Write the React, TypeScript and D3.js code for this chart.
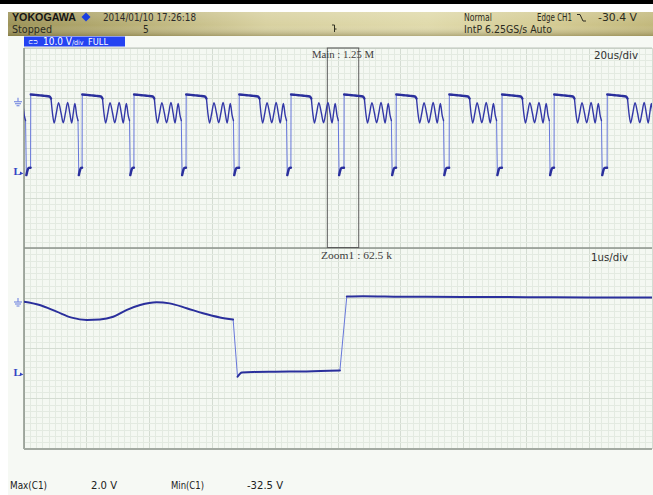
import React from "react";
import * as d3 from "d3";

const W = 653;
const H = 495;

// Screen geometry of the waveform area
const PLOT_L = 24;
const PLOT_R = 652;
const MAIN_TOP = 48;
const SPLIT_Y = 248;
const ZOOM_BOTTOM = 449;

// Main window: 20 us/div, 10 div, centred on the trigger
const mainTimeDomain: [number, number] = [-100, 100];
// Rising edges of CH1 in the main window (us)
const risingEdges = [-114.6, -97.9, -81.5, -65.0, -48.4, -31.5, -15.0, 1.9, 18.5, 35.4, 52.2, 68.8, 85.7];
// One switching pulse, time after the rising edge (us) and level (V)
const pulseT = [0.05, 1.5, 3.0, 4.5, 6.0, 6.5, 7.0, 7.5, 8.2, 8.9, 9.7, 10.4, 11.1, 11.8, 12.5, 13.1, 13.6, 14.1, 14.7, 15.1, 15.35, 15.8, 16.1];
const pulseV = [3.2, 3.0, 2.8, 2.6, 2.3, 1.4, -5.5, -9.4, -5.0, -0.4, -5.0, -9.3, -5.0, -0.3, -5.2, -9.4, -5.0, -0.8, -6.2, -8.3, -32.5, -30.0, -29.3];
const TOP_END_IDX = 5; // end of the flat top
const FALL_IDX = 19; // last sample before the falling edge
const LOW_BEFORE_RISE = -29.2;

// Zoom1 window: 1 us/div, 10 us wide
const zoomStart = -3.4;
const zoomSpan = 10;
const zoomT = [0, 0.25, 0.52, 0.76, 1.0, 1.21, 1.42, 1.63, 1.85, 2.11, 2.32, 2.59, 2.85, 3.12, 3.33, 3.4, 3.47, 3.65, 4.0, 4.5, 5.03, 5.14, 5.4, 6, 7, 8, 9, 10];
const zoomV = [0.1, -1.3, -4.2, -6.8, -7.8, -7.6, -6.4, -3.5, -1.3, -0.1, -0.6, -2.7, -4.9, -6.7, -7.6, -32.5, -30.7, -30.4, -30.3, -30.2, -29.8, 2.4, 2.5, 2.3, 2.2, 2.1, 2.0, 2.0];
const ZOOM_FALL_IDX = 14;
const ZOOM_RISE_IDX = 20;

// Readouts
const maxLabel = "Max(C1)";
const maxValue = "2.0 V";
const minLabel = "Min(C1)";
const minValue = "-32.5 V";

const TRACE = "#2a2f9c";
const EDGE = "#6676da";
const NARROW = "'Liberation Sans Narrow', 'DejaVu Sans Condensed', 'Arial Narrow', sans-serif";
const SERIF = "'Liberation Serif', 'DejaVu Serif', serif";

type Pt = [number, number];

export default function App() {
  const xMain = d3.scaleLinear().domain(mainTimeDomain).range([PLOT_L, PLOT_R]);
  const yMain = d3.scaleLinear().domain([0, -30]).range([101.7, 169.5]);
  const xZoom = d3.scaleLinear().domain([0, zoomSpan]).range([PLOT_L, PLOT_R]);
  const yZoom = d3.scaleLinear().domain([0, -30]).range([302, 371]);

  const mainLine = d3.line<Pt>().x((d) => xMain(d[0])).y((d) => yMain(d[1])).curve(d3.curveMonotoneX);
  const mainEdge = d3.line<Pt>().x((d) => xMain(d[0])).y((d) => yMain(d[1]));
  const zoomLine = d3.line<Pt>().x((d) => xZoom(d[0])).y((d) => yZoom(d[1])).curve(d3.curveMonotoneX);
  const zoomEdge = d3.line<Pt>().x((d) => xZoom(d[0])).y((d) => yZoom(d[1]));

  const flatMain: Pt[][] = [];
  const ringMain: Pt[][] = [];
  const thinMain: Pt[][] = [];
  risingEdges.forEach((e, i) => {
    const next = risingEdges[i + 1];
    const pts: Pt[] = pulseT.map((t, k) => [e + t, pulseV[k]]);
    const top = pts.slice(0, TOP_END_IDX + 1);
    const ring = pts.slice(TOP_END_IDX, FALL_IDX + 1);
    const low = pts.slice(FALL_IDX + 1);
    if (next !== undefined) low.push([next, LOW_BEFORE_RISE]);
    flatMain.push(top, low);
    ringMain.push(ring);
    thinMain.push([pts[FALL_IDX], pts[FALL_IDX + 1]]);
    if (next !== undefined) thinMain.push([[next, LOW_BEFORE_RISE], [next + pulseT[0], pulseV[0]]]);
  });

  const zpts: Pt[] = zoomT.map((t, k) => [t, zoomV[k]]);
  const thickZoom = [
    zpts.slice(0, ZOOM_FALL_IDX + 1),
    zpts.slice(ZOOM_FALL_IDX + 1, ZOOM_RISE_IDX + 1),
    zpts.slice(ZOOM_RISE_IDX + 1),
  ];
  const thinZoom: Pt[][] = [
    [zpts[ZOOM_FALL_IDX], zpts[ZOOM_FALL_IDX + 1]],
    [zpts[ZOOM_RISE_IDX], zpts[ZOOM_RISE_IDX + 1]],
  ];

  // Graticule
  const colStep = (PLOT_R - PLOT_L) / 100;
  const rowStep = (ZOOM_BOTTOM - MAIN_TOP) / 64;
  const cols = d3.range(0, 101);
  const rows = d3.range(0, 65);

  const boxX0 = xMain(zoomStart);
  const boxX1 = xMain(zoomStart + zoomSpan);

  const groundMark = (y: number) => (
    <g stroke="#7e8fe2" strokeWidth={1.2} fill="none">
      <line x1={18} x2={18} y1={y - 4} y2={y} />
      <line x1={14} x2={22} y1={y} y2={y} />
      <line x1={15} x2={21} y1={y + 2} y2={y + 2} />
      <line x1={16.5} x2={19.5} y1={y + 4} y2={y + 4} />
    </g>
  );
  const levelMark = (y: number) => (
    <g fill="#3444c4">
      <text x={13.5} y={y} fontFamily={SERIF} fontWeight="bold" fontSize={11}>L</text>
      <path d={`M${20},${y - 3.5} L${23.5},${y - 1.5} L${20},${y} Z`} />
    </g>
  );

  return (
    <svg
      width={W}
      height={H}
      viewBox={`0 0 ${W} ${H}`}
      style={{ position: "fixed", left: 0, top: 0, display: "block" }}
    >
      <defs>
        <linearGradient id="hdrH" x1="0" x2="1" y1="0" y2="0">
          <stop offset="0%" stopColor="#9c9358" />
          <stop offset="18%" stopColor="#b7ae74" />
          <stop offset="40%" stopColor="#d8d1a0" />
          <stop offset="65%" stopColor="#e0daab" />
          <stop offset="85%" stopColor="#d3ca92" />
          <stop offset="100%" stopColor="#c2b87c" />
        </linearGradient>
        <linearGradient id="hdrV" x1="0" x2="0" y1="0" y2="1">
          <stop offset="0%" stopColor="#ffffff" stopOpacity={0.15} />
          <stop offset="55%" stopColor="#ffffff" stopOpacity={0} />
          <stop offset="100%" stopColor="#5a5020" stopOpacity={0.35} />
        </linearGradient>
        <clipPath id="mainClip">
          <rect x={PLOT_L} y={MAIN_TOP} width={PLOT_R - PLOT_L} height={SPLIT_Y - MAIN_TOP} />
        </clipPath>
        <clipPath id="zoomClip">
          <rect x={PLOT_L} y={SPLIT_Y} width={PLOT_R - PLOT_L} height={ZOOM_BOTTOM - SPLIT_Y} />
        </clipPath>
      </defs>

      <rect x={0} y={0} width={W} height={H} fill="#ffffff" />
      <rect x={0} y={0} width={W} height={4} fill="#000000" />
      <rect x={8} y={36} width={W - 8} height={H - 36} fill="#f6f9f4" />

      {/* status header */}
      <rect x={8} y={12} width={W - 8} height={24} fill="url(#hdrH)" />
      <rect x={8} y={12} width={W - 8} height={24} fill="url(#hdrV)" />
      <text x={12} y={21} fontFamily="'Liberation Sans', Arial, sans-serif" fontWeight="bold" fontSize={10.5} fill="#151515" textLength={64} lengthAdjust="spacingAndGlyphs">YOKOGAWA</text>
      <path d="M86,12.5 L90.5,17 L86,21.5 L81.5,17 Z" fill="#1b3fe0" />
      <text x={103} y={21} fontFamily={NARROW} fontSize={10} fill="#2a2a2a" textLength={93} lengthAdjust="spacingAndGlyphs">2014/01/10 17:26:18</text>
      <text x={12} y={32.5} fontFamily={NARROW} fontSize={10} fill="#2a2a20" textLength={40} lengthAdjust="spacingAndGlyphs">Stopped</text>
      <text x={143} y={32.5} fontFamily={NARROW} fontSize={10} fill="#2a2a20">5</text>
      <g stroke="#303020" strokeWidth={1}>
        <line x1={334.5} x2={334.5} y1={25} y2={32} />
        <line x1={332} x2={334.5} y1={25} y2={25} />
        <line x1={334.5} x2={336.5} y1={29} y2={29} />
      </g>
      <text x={464} y={21} fontFamily={NARROW} fontSize={10} fill="#2a2a20" textLength={28} lengthAdjust="spacingAndGlyphs">Normal</text>
      <text x={537} y={21} fontFamily={NARROW} fontSize={10} fill="#2a2a20" textLength={35} lengthAdjust="spacingAndGlyphs">Edge CH1</text>
      <path d="M577,14.5 L580,14.5 L583,21 L586,21" fill="none" stroke="#2a2a20" strokeWidth={1} />
      <text x={598} y={21} fontFamily={NARROW} fontSize={10} fill="#2a2a20" textLength={39} lengthAdjust="spacingAndGlyphs">-30.4 V</text>
      <text x={464} y={32.5} fontFamily={NARROW} fontSize={10} fill="#2a2a20" textLength={88} lengthAdjust="spacingAndGlyphs">IntP 6.25GS/s Auto</text>

      {/* channel label */}
      <rect x={24} y={36.5} width={101} height={10} fill="#2443f2" />
      <text x={28} y={45} fontFamily={NARROW} fontSize={9} fill="#ffffff" textLength={10} lengthAdjust="spacingAndGlyphs">⊂⊃</text>
      <text x={43} y={45} fontFamily={NARROW} fontSize={10} fill="#ffffff" textLength={29} lengthAdjust="spacingAndGlyphs">10.0 V</text>
      <text x={72} y={45} fontFamily={NARROW} fontSize={7} fill="#ffffff">/div</text>
      <text x={88} y={45} fontFamily={NARROW} fontSize={8} fill="#ffffff" textLength={20} lengthAdjust="spacingAndGlyphs">FULL</text>

      {/* graticule */}
      <rect x={PLOT_L} y={MAIN_TOP} width={PLOT_R - PLOT_L} height={ZOOM_BOTTOM - MAIN_TOP} fill="#f4f8f2" />
      <g shapeRendering="crispEdges">
        {cols.map((c) => (
          <line
            key={`c${c}`}
            x1={PLOT_L + c * colStep}
            x2={PLOT_L + c * colStep}
            y1={MAIN_TOP}
            y2={ZOOM_BOTTOM}
            stroke={c % 10 === 0 ? "#d4dcd2" : "#e3eae1"}
            strokeWidth={1}
          />
        ))}
        {rows.map((r) => (
          <line
            key={`r${r}`}
            x1={PLOT_L}
            x2={PLOT_R}
            y1={MAIN_TOP + r * rowStep}
            y2={MAIN_TOP + r * rowStep}
            stroke={r % 8 === 0 ? "#d4dcd2" : "#e3eae1"}
            strokeWidth={1}
          />
        ))}
      </g>
      <line x1={PLOT_L} x2={PLOT_R} y1={MAIN_TOP} y2={MAIN_TOP} stroke="#bcc3ba" strokeWidth={1} />
      <line x1={PLOT_L} x2={PLOT_L} y1={MAIN_TOP} y2={ZOOM_BOTTOM} stroke="#8a9288" strokeWidth={1.5} />
      <line x1={PLOT_L} x2={PLOT_R} y1={SPLIT_Y} y2={SPLIT_Y} stroke="#8c938b" strokeWidth={1.5} />
      <line x1={PLOT_L} x2={PLOT_R} y1={ZOOM_BOTTOM} y2={ZOOM_BOTTOM} stroke="#a3aaa2" strokeWidth={2} />

      {/* zoom window box */}
      <rect x={boxX0} y={MAIN_TOP} width={boxX1 - boxX0} height={SPLIT_Y - MAIN_TOP - 0.5} fill="none" stroke="#5c5c5c" strokeWidth={1} />

      {/* main trace */}
      <g clipPath="url(#mainClip)" fill="none" strokeLinejoin="round" strokeLinecap="round">
        {thinMain.map((s, i) => (
          <path key={`tm${i}`} d={mainEdge(s) ?? ""} stroke={EDGE} strokeWidth={1} />
        ))}
        {ringMain.map((s, i) => (
          <path key={`rm${i}`} d={mainLine(s) ?? ""} stroke="#3338a8" strokeWidth={1.4} />
        ))}
        {flatMain.map((s, i) => (
          <path key={`km${i}`} d={mainLine(s) ?? ""} stroke={TRACE} strokeWidth={2.4} />
        ))}
      </g>

      {/* zoom trace */}
      <g clipPath="url(#zoomClip)" fill="none" strokeLinejoin="round" strokeLinecap="round">
        {thinZoom.map((s, i) => (
          <path key={`tz${i}`} d={zoomEdge(s) ?? ""} stroke={EDGE} strokeWidth={1} />
        ))}
        {thickZoom.map((s, i) => (
          <path key={`kz${i}`} d={zoomLine(s) ?? ""} stroke={TRACE} strokeWidth={2} />
        ))}
      </g>

      {groundMark(yMain(0))}
      {levelMark(175)}
      {groundMark(yZoom(0))}
      {levelMark(376)}

      {/* window annotations */}
      <text x={312} y={58} fontFamily={SERIF} fontSize={10} fill="#404040" textLength={62} lengthAdjust="spacingAndGlyphs">Main : 1.25 M</text>
      <text x={594} y={59} fontFamily={NARROW} fontSize={11} fill="#303030" textLength={44} lengthAdjust="spacingAndGlyphs">20us/div</text>
      <text x={321} y={259} fontFamily={SERIF} fontSize={10} fill="#404040" textLength={71} lengthAdjust="spacingAndGlyphs">Zoom1 : 62.5 k</text>
      <text x={591} y={261} fontFamily={NARROW} fontSize={11} fill="#303030" textLength={37} lengthAdjust="spacingAndGlyphs">1us/div</text>

      {/* measurement readouts */}
      <text x={10} y={489} fontFamily={NARROW} fontSize={10} fill="#202020" textLength={37} lengthAdjust="spacingAndGlyphs">{maxLabel}</text>
      <text x={91} y={489} fontFamily={NARROW} fontSize={10} fill="#202020" textLength={26} lengthAdjust="spacingAndGlyphs">{maxValue}</text>
      <text x={171} y={489} fontFamily={NARROW} fontSize={10} fill="#202020" textLength={33} lengthAdjust="spacingAndGlyphs">{minLabel}</text>
      <text x={247} y={489} fontFamily={NARROW} fontSize={10} fill="#202020" textLength={36} lengthAdjust="spacingAndGlyphs">{minValue}</text>
    </svg>
  );
}
